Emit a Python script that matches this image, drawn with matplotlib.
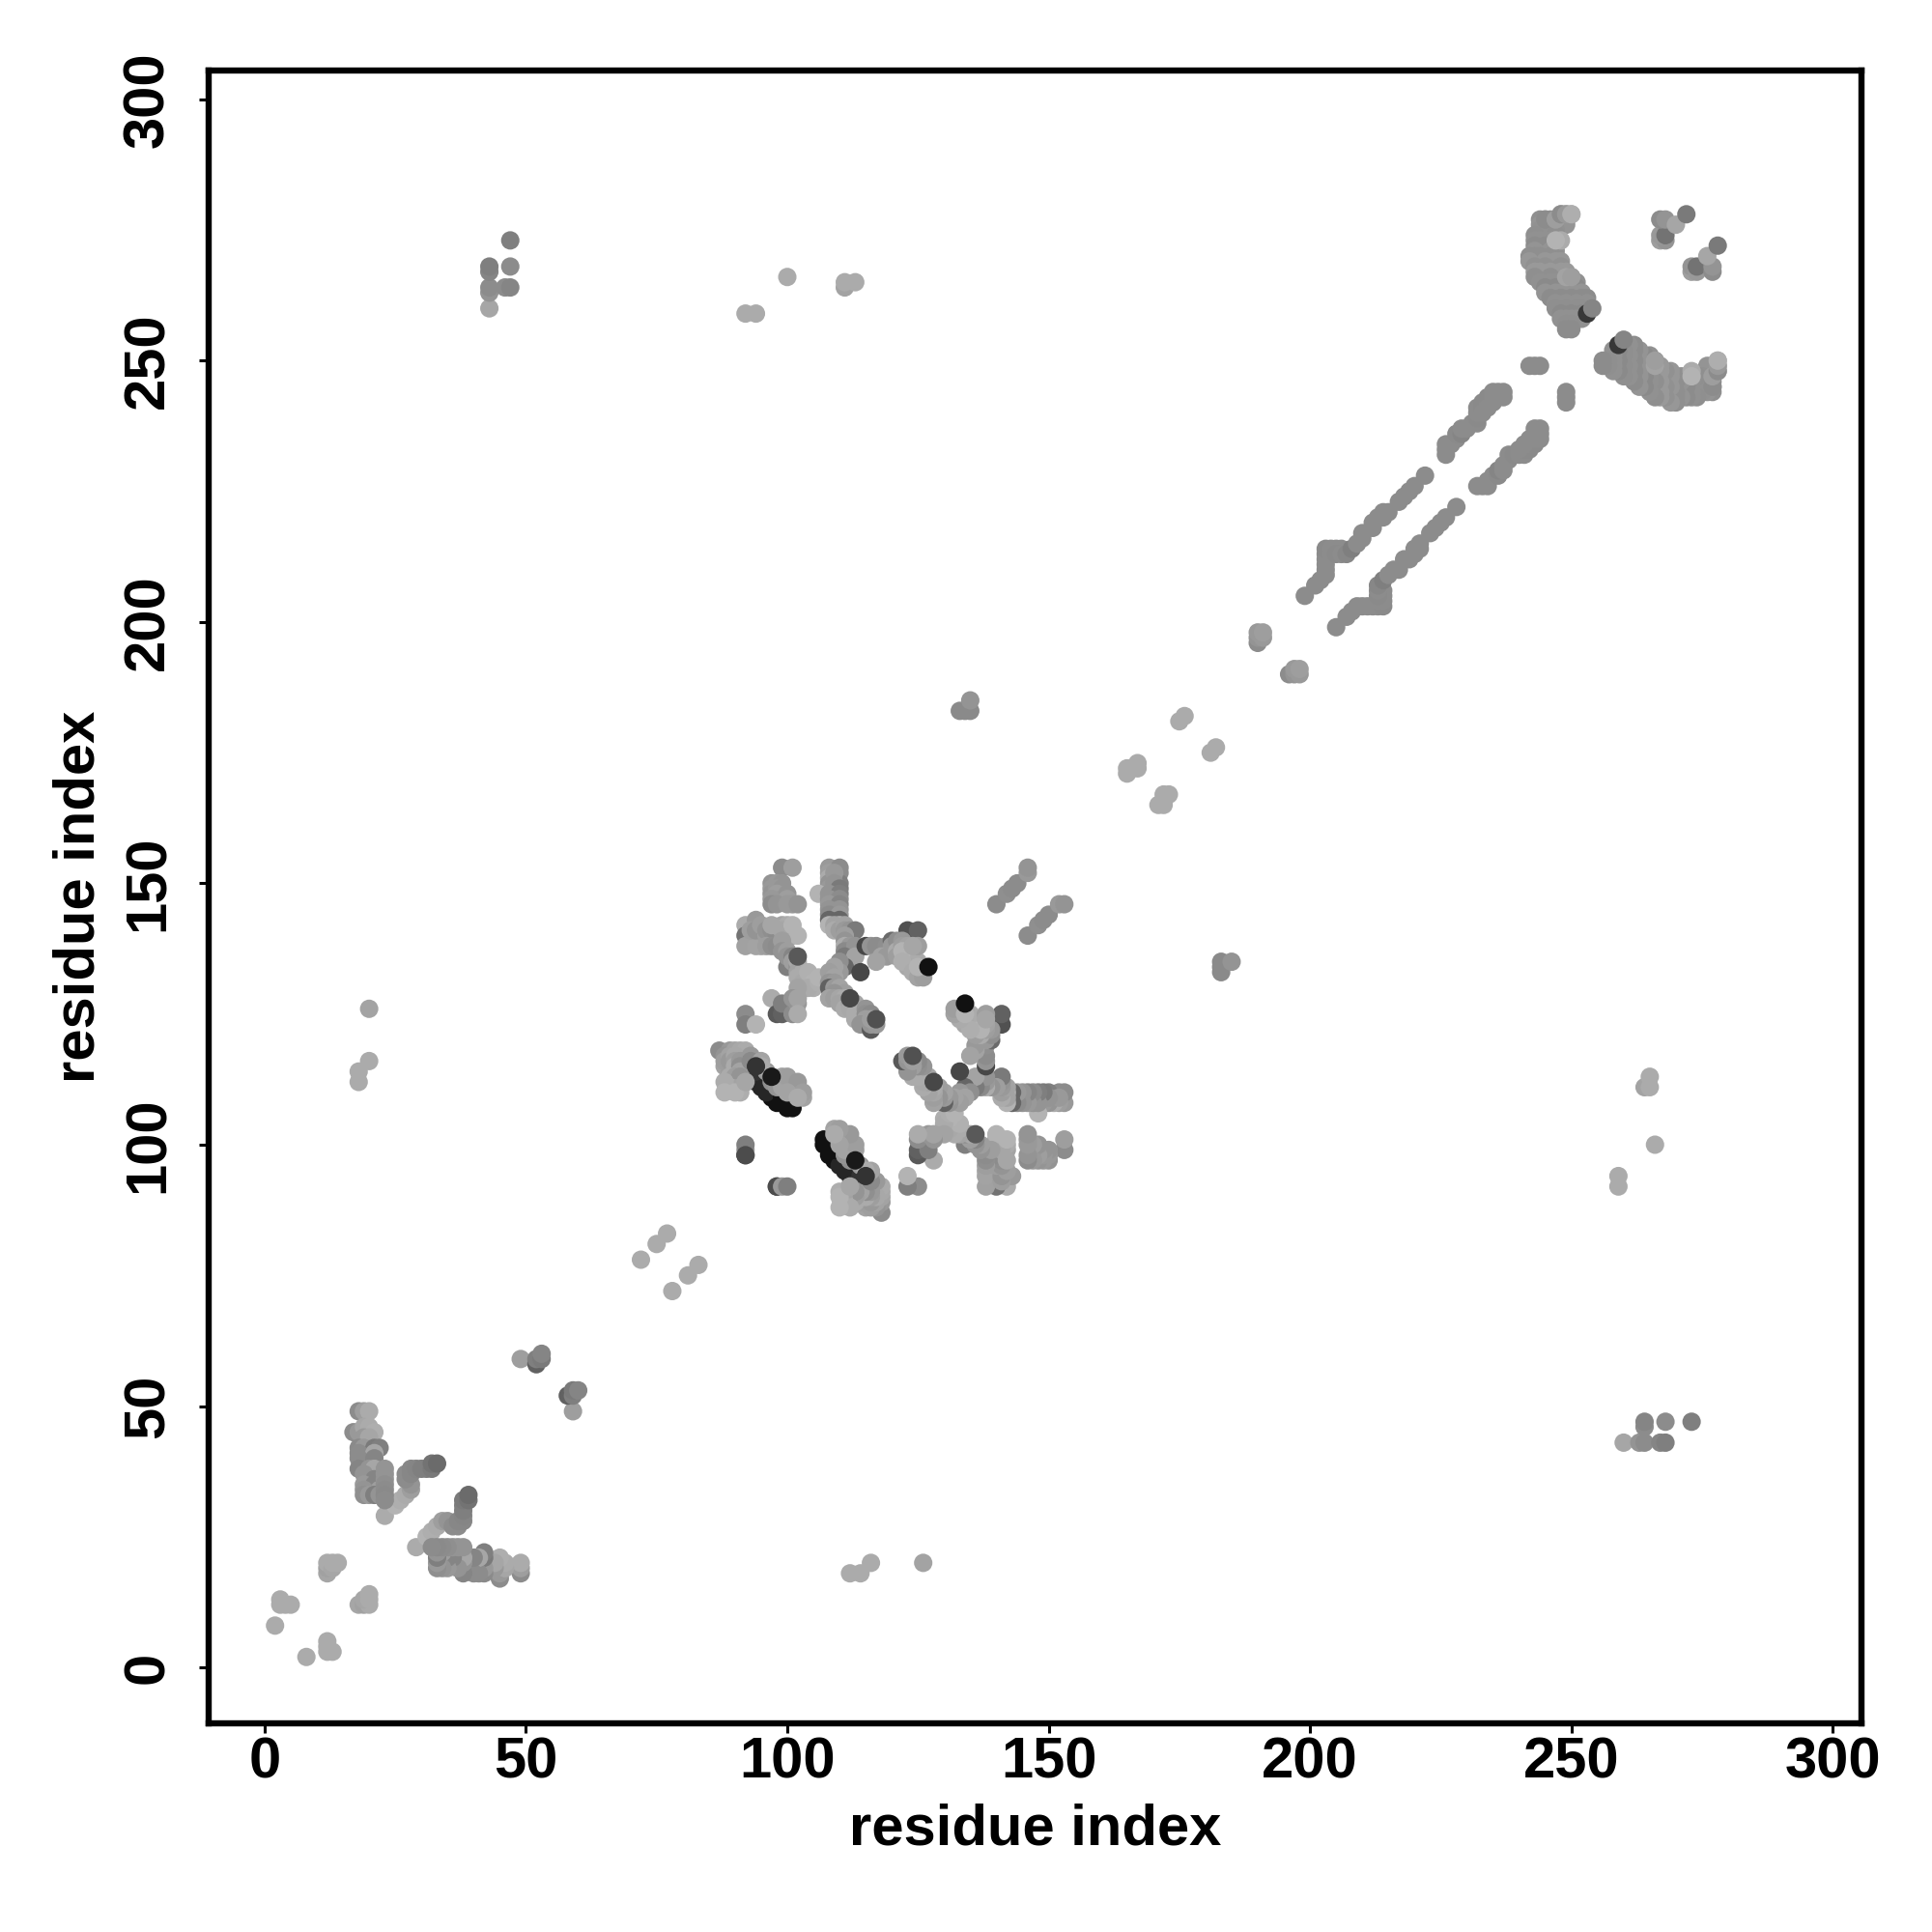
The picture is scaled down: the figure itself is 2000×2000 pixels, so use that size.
import matplotlib
matplotlib.use('Agg')
import matplotlib.pyplot as plt
import numpy as np

# contact list: residue i, residue j, score (larger = darker). The map is symmetric so only i < j is kept
n_term = [(2,8,33),(3,12,33),(3,13,33),(4,12,33),(5,12,33),(12,18,35),(12,19,37),(12,20,33),(13,19,35),(13,20,33),(14,20,33)]

hairpin_n = [(23,29,33),(25,31,30),(26,32,32),(27,33,33),(28,34,38),(28,35,42),(27,36,45),(27,37,45),(28,37,47),
             (28,38,47),(29,38,48),(30,38,50),(31,38,50),(32,38,52),(32,39,55),(33,39,58)]

block_n = [(18,49,45),(19,49,38),(20,49,33),(17,45,45),(18,45,40),(19,46,35),(20,46,33),(20,45,33),(21,45,32),
           (19,44,40),(20,44,35),(18,42,46),(19,42,40),(21,42,52),(22,42,50),(18,41,45),(21,41,35),(18,40,45),
           (21,40,48),(18,38,48),(20,38,42),(21,38,35),(19,37,42),(21,36,48),(19,35,40),(21,35,48),(19,34,42),
           (22,34,38),(19,33,44),(20,33,40),(21,33,50),(22,33,42),(23,38,42),(23,37,42),(23,36,42),(23,35,44),
           (23,34,45),(23,33,46),(23,32,45)]

short_range = [(49,59,38),(52,58,62),(52,59,50),(53,59,52),(53,60,48),(72,78,33),(75,81,33),(77,83,33),
               (140,146,45),(142,148,44),(143,149,45),(144,150,45),(146,152,40),(146,153,42),
               (165,171,33),(165,172,33),(166,172,33),(167,172,33),(167,173,33),(175,181,33),(176,182,33),
               (190,196,45),(190,197,42),(190,198,40),(191,197,40),(191,198,38)]

long_range = [(43,260,35),(43,263,42),(43,264,45),(43,267,48),(43,268,50),(46,264,45),(47,264,48),(47,268,45),(47,273,50),
              (18,112,33),(18,114,33),(20,116,33),(20,126,36),(92,259,33),(94,259,33),(100,266,33),
              (111,264,36),(111,265,33),(113,265,33),(133,183,46),(134,183,46),(135,183,46),(135,185,42)]

# central domain
core_a = [(99,153,45),(101,153,38),(97,150,42),(98,150,40),(99,150,42),(97,149,40),(97,148,42),(99,148,45),
          (98,149,40),(99,149,42),(98,148,38),(99,147,40),(100,148,42),(100,147,38),(101,146,40),(97,147,40),
          (97,146,45),(98,146,42),(100,146,40),(102,146,42),(92,142,33),(94,143,40),(92,140,55),(92,138,37),
          (94,138,36),(95,138,36),(97,140,70),(100,140,70),(93,141,38),(94,141,42),(95,142,38),(96,140,38),
          (96,141,42),(97,141,44),(98,141,38),(98,140,45),(99,142,36),(100,142,33),(101,140,34),(101,141,33),
          (96,138,38),(97,138,44),(97,142,35),(99,141,35),(101,142,30),(102,140,30),
          (98,138,45),(100,134,50),(99,139,38),(99,137,42),(100,137,38),(100,136,42),(101,136,48),(101,135,38),
          (102,134,44),(102,135,34),(102,133,36),(102,132,33),(103,133,33),(103,131,34),(103,130,31),(104,132,34),
          (105,132,32),(104,133,31),(105,130,32),(105,131,30),(104,130,33),(102,130,36),(106,131,32),(106,132,30),
          (97,128,33),(98,125,65),(99,125,62),(99,127,50),(101,125,45),(102,127,40),(101,128,42),(102,128,36),
          (102,125,33),(92,125,45),(92,123,50),(94,123,30),(92,98,70),(92,99,40),(92,100,50),(98,92,70)]

core_b = [(108,153,40),(110,153,45),(108,152,38),(110,152,45),(108,151,33),(110,150,50),(108,150,42),(108,149,40),
          (109,152,40),(109,150,42),(109,148,42),(109,146,45),(109,144,40),
          (110,149,52),(106,148,30),(108,148,42),(110,148,50),(108,147,42),(110,147,45),(108,146,40),(110,146,48),
          (108,145,42),(110,145,42),(108,144,45),(110,144,40),(108,143,60),(110,143,60),(108,142,30),(110,142,30),
          (109,142,36),(109,141,33),(110,141,38),(111,142,36),(111,141,40),(112,141,42),(113,141,52),(111,140,38),
          (111,139,42),(111,138,33),(112,138,40),(112,137,44),(111,137,46),(113,138,42),(111,136,52),(113,136,36),
          (111,134,60),(110,135,44),(110,133,40),(109,134,36),(108,133,38),(109,132,36),(108,131,42),(109,131,40),
          (108,130,62),(109,130,40),(110,130,36),(110,129,36),(111,129,38),(109,129,42),(108,128,36),(109,128,38),
          (110,128,35),(111,128,33),(110,127,36),(111,126,33),(112,127,38),(113,127,35),(113,126,38),(112,126,34),
          (114,126,36),(114,125,38),(113,125,33),(114,124,36),(113,124,33),(115,126,42),(115,125,44),(116,125,46),
          (115,124,38),(115,123,36),(114,123,42),(116,122,65),(116,123,42),(117,123,40),(116,124,38)]

core_c = [(115,138,72),(116,138,42),(117,138,45),(119,138,44),(120,139,58),(120,137,36),(123,141,68),(125,141,62),
          (120,138,40),(121,139,44),(122,139,40),(118,136,36),(119,136,40),(121,137,33),(121,136,38),(123,137,35),
          (123,136,33),(123,135,36),(124,135,32),(124,134,36),(125,135,33),(125,133,35),(126,133,33),(126,134,36),
          (123,134,34),(122,138,38),(123,138,36),(125,138,38),
          (117,135,36),(122,137,30),(124,138,35),(122,135,32),(124,133,33),(125,132,36),(126,132,38),(125,134,30)]

core_d = [(94,112,75),(95,111,85),(97,109,93),(100,107,93),(98,108,93),(101,107,93),(96,110,85),(99,109,93),
          (94,114,80),(94,116,80),(92,115,70),(92,112,70),
          (87,118,45),(89,118,40),(90,118,36),(91,118,34),(92,118,33),(88,115,36),(89,114,38),(90,112,36),
          (88,117,42),(88,116,38),(89,117,36),(89,116,40),(90,117,34),(90,116,38),(90,115,33),(91,116,40),
          (91,115,44),(91,114,36),(89,113,33),(90,113,38),(91,113,42),(89,111,33),(91,111,36),(91,110,32),
          (93,117,40),(93,116,46),(95,116,36),(96,114,40),(97,112,44),(98,112,38),(98,111,42),(99,111,36),
          (99,113,36),(101,112,42),(101,111,38),(101,110,36),(102,111,40),(103,109,36),
          (88,112,33),(88,110,30),(90,110,30),(92,112,35),(95,115,33),(100,113,38),(102,112,40),
          (103,110,38),(100,110,36),(102,109,33)]

# the few darkest contacts sit on top of the rest
core_top = [(94,115,80),(97,113,90),(102,136,65),(114,133,72),(112,128,72),(117,124,68),(127,134,93)]

# long antiparallel strands
strand_1 = [(199,205,45),(201,207,45),(202,208,45),(203,209,45),(203,210,45),(203,211,45),(203,212,45),(203,213,45),
            (203,214,46),(204,214,45),(205,214,45),(206,214,45),(204,213,45),(205,213,46),(206,213,45),
            (207,213,47),(208,214,50),(209,215,45),(210,216,45),(210,217,45),(212,218,45),(212,219,45),(213,220,45),
            (214,220,45),(214,221,45),(215,221,45),(217,223,45),(218,224,45),(219,225,45),(220,226,45),(222,228,45)]

strand_2 = [(226,232,45),(226,233,45),(226,234,45),(227,234,45),(228,235,45),(228,236,46),(229,236,48),(229,237,45),
            (230,237,45),(231,238,45),(232,238,45),(232,239,46),(232,240,45),(232,241,45),(233,241,46),(233,242,46),
            (234,242,45),(234,243,46),(235,243,45),(235,244,45),(236,243,45),(236,244,45),(237,243,45),(237,244,45),
            (233,240,45),(234,241,45),(235,242,45),(242,249,45),(243,249,45),(244,249,45)]

# C-terminal arc
arc_j = [278,277,276,275,274,273,272,271,270,269,268,267,266,265,264,263,262,261,260,259,258,257,256]
arc_i = [[248,249,250],[244,245,246,247,248,249],[244,245,248,249],[244,245,246,247],[243,247],[243,244,245,246,247],
         [243,245,247],[243,246,247],[242,243,244,246,247],[242,245,247,248],[243,245,248],[243,244,246,248,249],
         [243,246,249,250],[244,246,247,250,251],[245,247,249,251],[245,247,248,250,252],[246,248,250,252,253],
         [247,249,251,253],[247,249,251,252],[248,250,252,253],[248,249,250,251,252],[249,250],[249,250]]
arc_score = [33,44,42,43,44,43,45,42,44,41,43,40,44,43,46,42,45,43,44,46,43,44,45]

arc_top = [(245,277,45),(247,277,38),(248,278,45),(249,278,40),(250,278,32),(248,273,33),(247,273,30),(249,266,36),
           (250,266,38),(253,259,78),(254,260,48)]

arc_tail = [(267,273,38),(268,273,42),(267,274,40),(268,274,55),(267,277,45),(268,277,42),(270,276,35),(272,278,52)]

ticks_xy = [0, 50, 100, 150, 200, 250, 300]
axis_label = "residue index"


def expand_arc():
    rows = []
    for j, ii, s in zip(arc_j, arc_i, arc_score):
        for i in ii:
            rows.append((i, j, s))
    return rows


contacts = (n_term + hairpin_n + block_n + short_range + long_range + core_a + core_b + core_c + core_d + core_top
            + strand_1 + strand_2 + expand_arc() + arc_top + arc_tail)
contacts = np.array(contacts)

# mirrored in both directions
xs = np.concatenate([contacts[:, 0], contacts[:, 1]])
ys = np.concatenate([contacts[:, 1], contacts[:, 0]])
scores = np.concatenate([contacts[:, 2], contacts[:, 2]])

plt.rcParams['font.family'] = ['Liberation Sans', 'DejaVu Sans']
plt.rcParams['font.weight'] = 'bold'

fig = plt.figure(figsize=(10, 10), dpi=200)
ax = fig.add_axes([0.108, 0.108, 0.8555, 0.8555])

ax.scatter(xs, ys, c=scores, cmap='gray_r', vmin=0, vmax=100, s=47, linewidths=0, zorder=3)

ax.set_xlim(-10.7, 305.5)
ax.set_ylim(-10.7, 305.5)
ax.set_xticks(ticks_xy)
ax.set_yticks(ticks_xy)
ax.tick_params(axis='x', length=3.5, width=1.1, labelsize=21.5, pad=1.5)
ax.tick_params(axis='y', length=3.5, width=1.1, labelsize=21.5, pad=9)
for lab in ax.get_yticklabels():
    lab.set(rotation=90, rotation_mode='anchor', ha='center', va='bottom')

for sp in ax.spines.values():
    sp.set_linewidth(2.3)

ax.set_xlabel(axis_label, fontsize=21.5, fontweight='bold', va='center')
ax.set_ylabel(axis_label, fontsize=21.5, fontweight='bold', va='center')
ax.xaxis.set_label_coords(0.5, -0.0643)
ax.yaxis.set_label_coords(-0.0785, 0.5)

fig.savefig('out.png', dpi=200, facecolor='white')
